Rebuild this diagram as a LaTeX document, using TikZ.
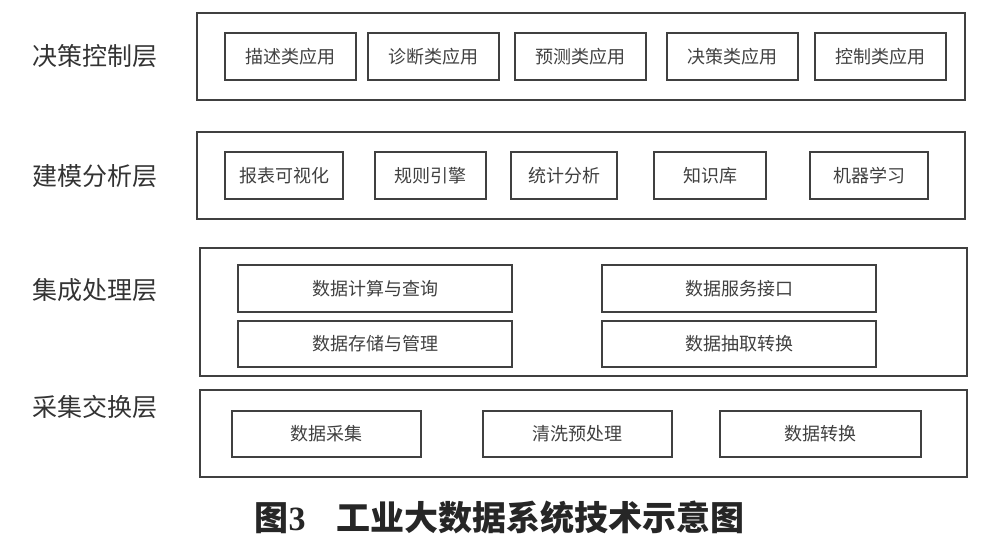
\documentclass[tikz,border=0pt]{standalone}
\usepackage{fontspec}
\setmainfont{Liberation Serif}
\newfontfamily\cjk{Noto Sans CJK SC}
\begin{document}
\begin{tikzpicture}[x=1pt, y=-1pt, font=\cjk,
  layerbox/.style={draw=black!75, line width=1.2pt, inner sep=0pt},
  appbox/.style={draw=black!75, line width=1.2pt, inner sep=0pt, minimum height=47pt,
    text=black!75, font=\cjk\fontsize{18}{19}\selectfont},
  layerlabel/.style={text=black!80, font=\cjk\fontsize{25}{26}\selectfont},
  caption/.style={text=black!85, font=\cjk\bfseries\fontsize{34}{36}\selectfont}]

  % Page size of the reference.
  \useasboundingbox (0,0) rectangle (994,542);

  % Outer boxes of the four layers.
  \node[layerbox,minimum width=768pt,minimum height=87pt]  (decide) at (581,56.5) {};
  \node[layerbox,minimum width=768pt,minimum height=87pt]  (model)  at (581,175.5) {};
  \node[layerbox,minimum width=767pt,minimum height=128pt] (integ)  at (583.5,312) {};
  \node[layerbox,minimum width=767pt,minimum height=87pt]  (collect) at (583.5,433.5) {};

  % Layer names on the left
  \node[layerlabel] (decidelabel)  at (94.5,56)  {决策控制层};
  \node[layerlabel] (modellabel)   at (94.5,176) {建模分析层};
  \node[layerlabel] (integlabel)   at (94.5,290) {集成处理层};
  \node[layerlabel] (collectlabel) at (94.5,407) {采集交换层};

  % Boxes in the top layer
  \node[appbox,minimum width=131pt] (describe) at (290.5,56.5) {描述类应用};
  \node[appbox,minimum width=131pt] (diagnose) at (433.5,56.5) {诊断类应用};
  \node[appbox,minimum width=131pt] (predict)  at (580.5,56.5) {预测类应用};
  \node[appbox,minimum width=131pt] (decision) at (732.5,56.5) {决策类应用};
  \node[appbox,minimum width=131pt] (control)  at (880.5,56.5) {控制类应用};

  % Boxes in the modelling layer
  \node[appbox,minimum width=118pt] (report)    at (284,175.5)   {报表可视化};
  \node[appbox,minimum width=111pt] (rules)     at (430.5,175.5) {规则引擎};
  \node[appbox,minimum width=106pt] (stats)     at (564,175.5)   {统计分析};
  \node[appbox,minimum width=112pt] (knowledge) at (710,175.5)   {知识库};
  \node[appbox,minimum width=118pt] (learning)  at (869,175.5)   {机器学习};

  % Boxes in the integration layer
  \node[appbox,minimum width=274pt] (compute)  at (375,288.5) {数据计算与查询};
  \node[appbox,minimum width=274pt,minimum height=46pt] (store) at (375,344) {数据存储与管理};
  \node[appbox,minimum width=274pt] (service)  at (739,288.5) {数据服务接口};
  \node[appbox,minimum width=274pt,minimum height=46pt] (extract) at (739,344) {数据抽取转换};

  % Boxes in the collecting layer
  \node[appbox,minimum width=189pt,minimum height=46pt] (gather)  at (326.5,434) {数据采集};
  \node[appbox,minimum width=189pt,minimum height=46pt] (clean)   at (577.5,434) {清洗预处理};
  \node[appbox,minimum width=201pt,minimum height=46pt] (convert) at (820.5,434) {数据转换};

  % Figure caption
  \node[caption] (title) at (499.5,518) {图{\rmfamily\bfseries 3}\hspace{0.9em}工业大数据系统技术示意图};

\end{tikzpicture}
\end{document}
